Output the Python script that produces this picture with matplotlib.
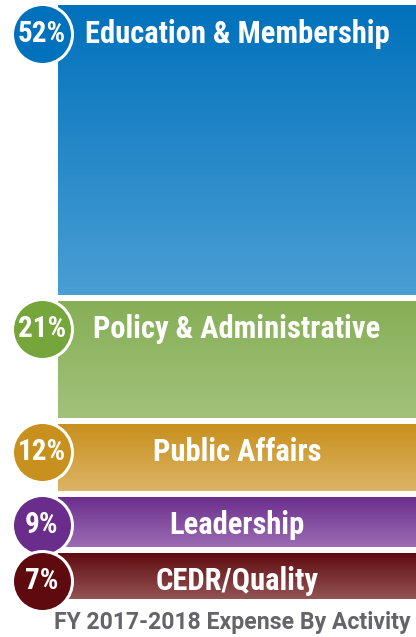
import numpy as np
import matplotlib
matplotlib.use("Agg")
import matplotlib.pyplot as plt
from matplotlib.colors import LinearSegmentedColormap
from matplotlib import font_manager as fm

# ---- data ----
categories = ["Education & Membership", "Policy & Administrative", "Public Affairs",
              "Leadership", "CEDR/Quality"]
percents = [52, 21, 12, 9, 7]
pct_labels = ["52%", "21%", "12%", "9%", "7%"]
title = "FY 2017-2018 Expense By Activity"

# ---- styles ----
top_colors = ["#0071BC", "#86AE56", "#C8901C", "#6A2D8C", "#5E0A0E"]
bot_colors = ["#4A9FD4", "#A2C27A", "#DDB466", "#9C6CB4", "#945454"]
circle_colors = ["#0071BC", "#76A53C", "#C8901C", "#6A2D8C", "#5E0A0E"]

names = {f.name for f in fm.fontManager.ttflist}
cands = ["Roboto Condensed", "Archivo Narrow", "PT Sans Narrow", "Barlow Condensed",
         "Liberation Sans Narrow", "Roboto"]
chosen = next((c for c in cands if c in names), "DejaVu Sans")
family = [chosen, "DejaVu Sans"]
title_family = ["Roboto", "DejaVu Sans"]

W, H = 416, 637
fig = plt.figure(figsize=(W / 100, H / 100), dpi=100)
ax_bottom, ax_top = 38 / H, 632 / H
ax = fig.add_axes([0, ax_bottom, 1, ax_top - ax_bottom])
ax.set_axis_off()

# minimum block height (in % units) so that small blocks still hold their label
min_h = 8.3
heights = [max(v, min_h) for v in percents]
gap = 1.06
total = sum(heights) + gap * (len(heights) - 1)
ax.set_xlim(0, W)
ax.set_ylim(0, total)
px_per_unit = (ax_top - ax_bottom) * H / total

x0, x1 = 58, W
cx = 42
r_px = 28.5
top = total
for i, (cat, h, lab) in enumerate(zip(categories, heights, pct_labels)):
    bottom = top - h
    bars = ax.bar(x0, h, width=x1 - x0, bottom=bottom, align="edge",
                  color="none", edgecolor="none", zorder=1)
    cmap = LinearSegmentedColormap.from_list("g", [bot_colors[i], top_colors[i]])
    grad = np.linspace(0, 1, 256).reshape(-1, 1)
    im = ax.imshow(grad, extent=(x0, x1, bottom, top), origin="lower", cmap=cmap,
                   aspect="auto", interpolation="bicubic", zorder=1)
    im.set_clip_path(bars.patches[0])
    cy = top - r_px / px_per_unit
    ms_pt = 2 * (r_px + 1.5) * 72 / 100
    ax.scatter([cx], [cy], s=ms_pt ** 2, color=circle_colors[i], edgecolors="white",
               linewidths=3 * 72 / 100, zorder=3, clip_on=False)
    ax.text(cx, cy, lab, color="white", fontsize=21, fontweight="bold", family=family,
            ha="center", va="center", zorder=4)
    ax.text((x0 + x1) / 2, cy, cat, color="white", fontsize=22, fontweight="bold",
            family=family, ha="center", va="center", zorder=4)
    top = bottom - gap

fig.text(410 / W, 1 - 622 / H, title, color="#646469", fontsize=16.6,
         fontweight="bold", family=title_family, ha="right", va="center")
fig.savefig("out.png", dpi=100)
